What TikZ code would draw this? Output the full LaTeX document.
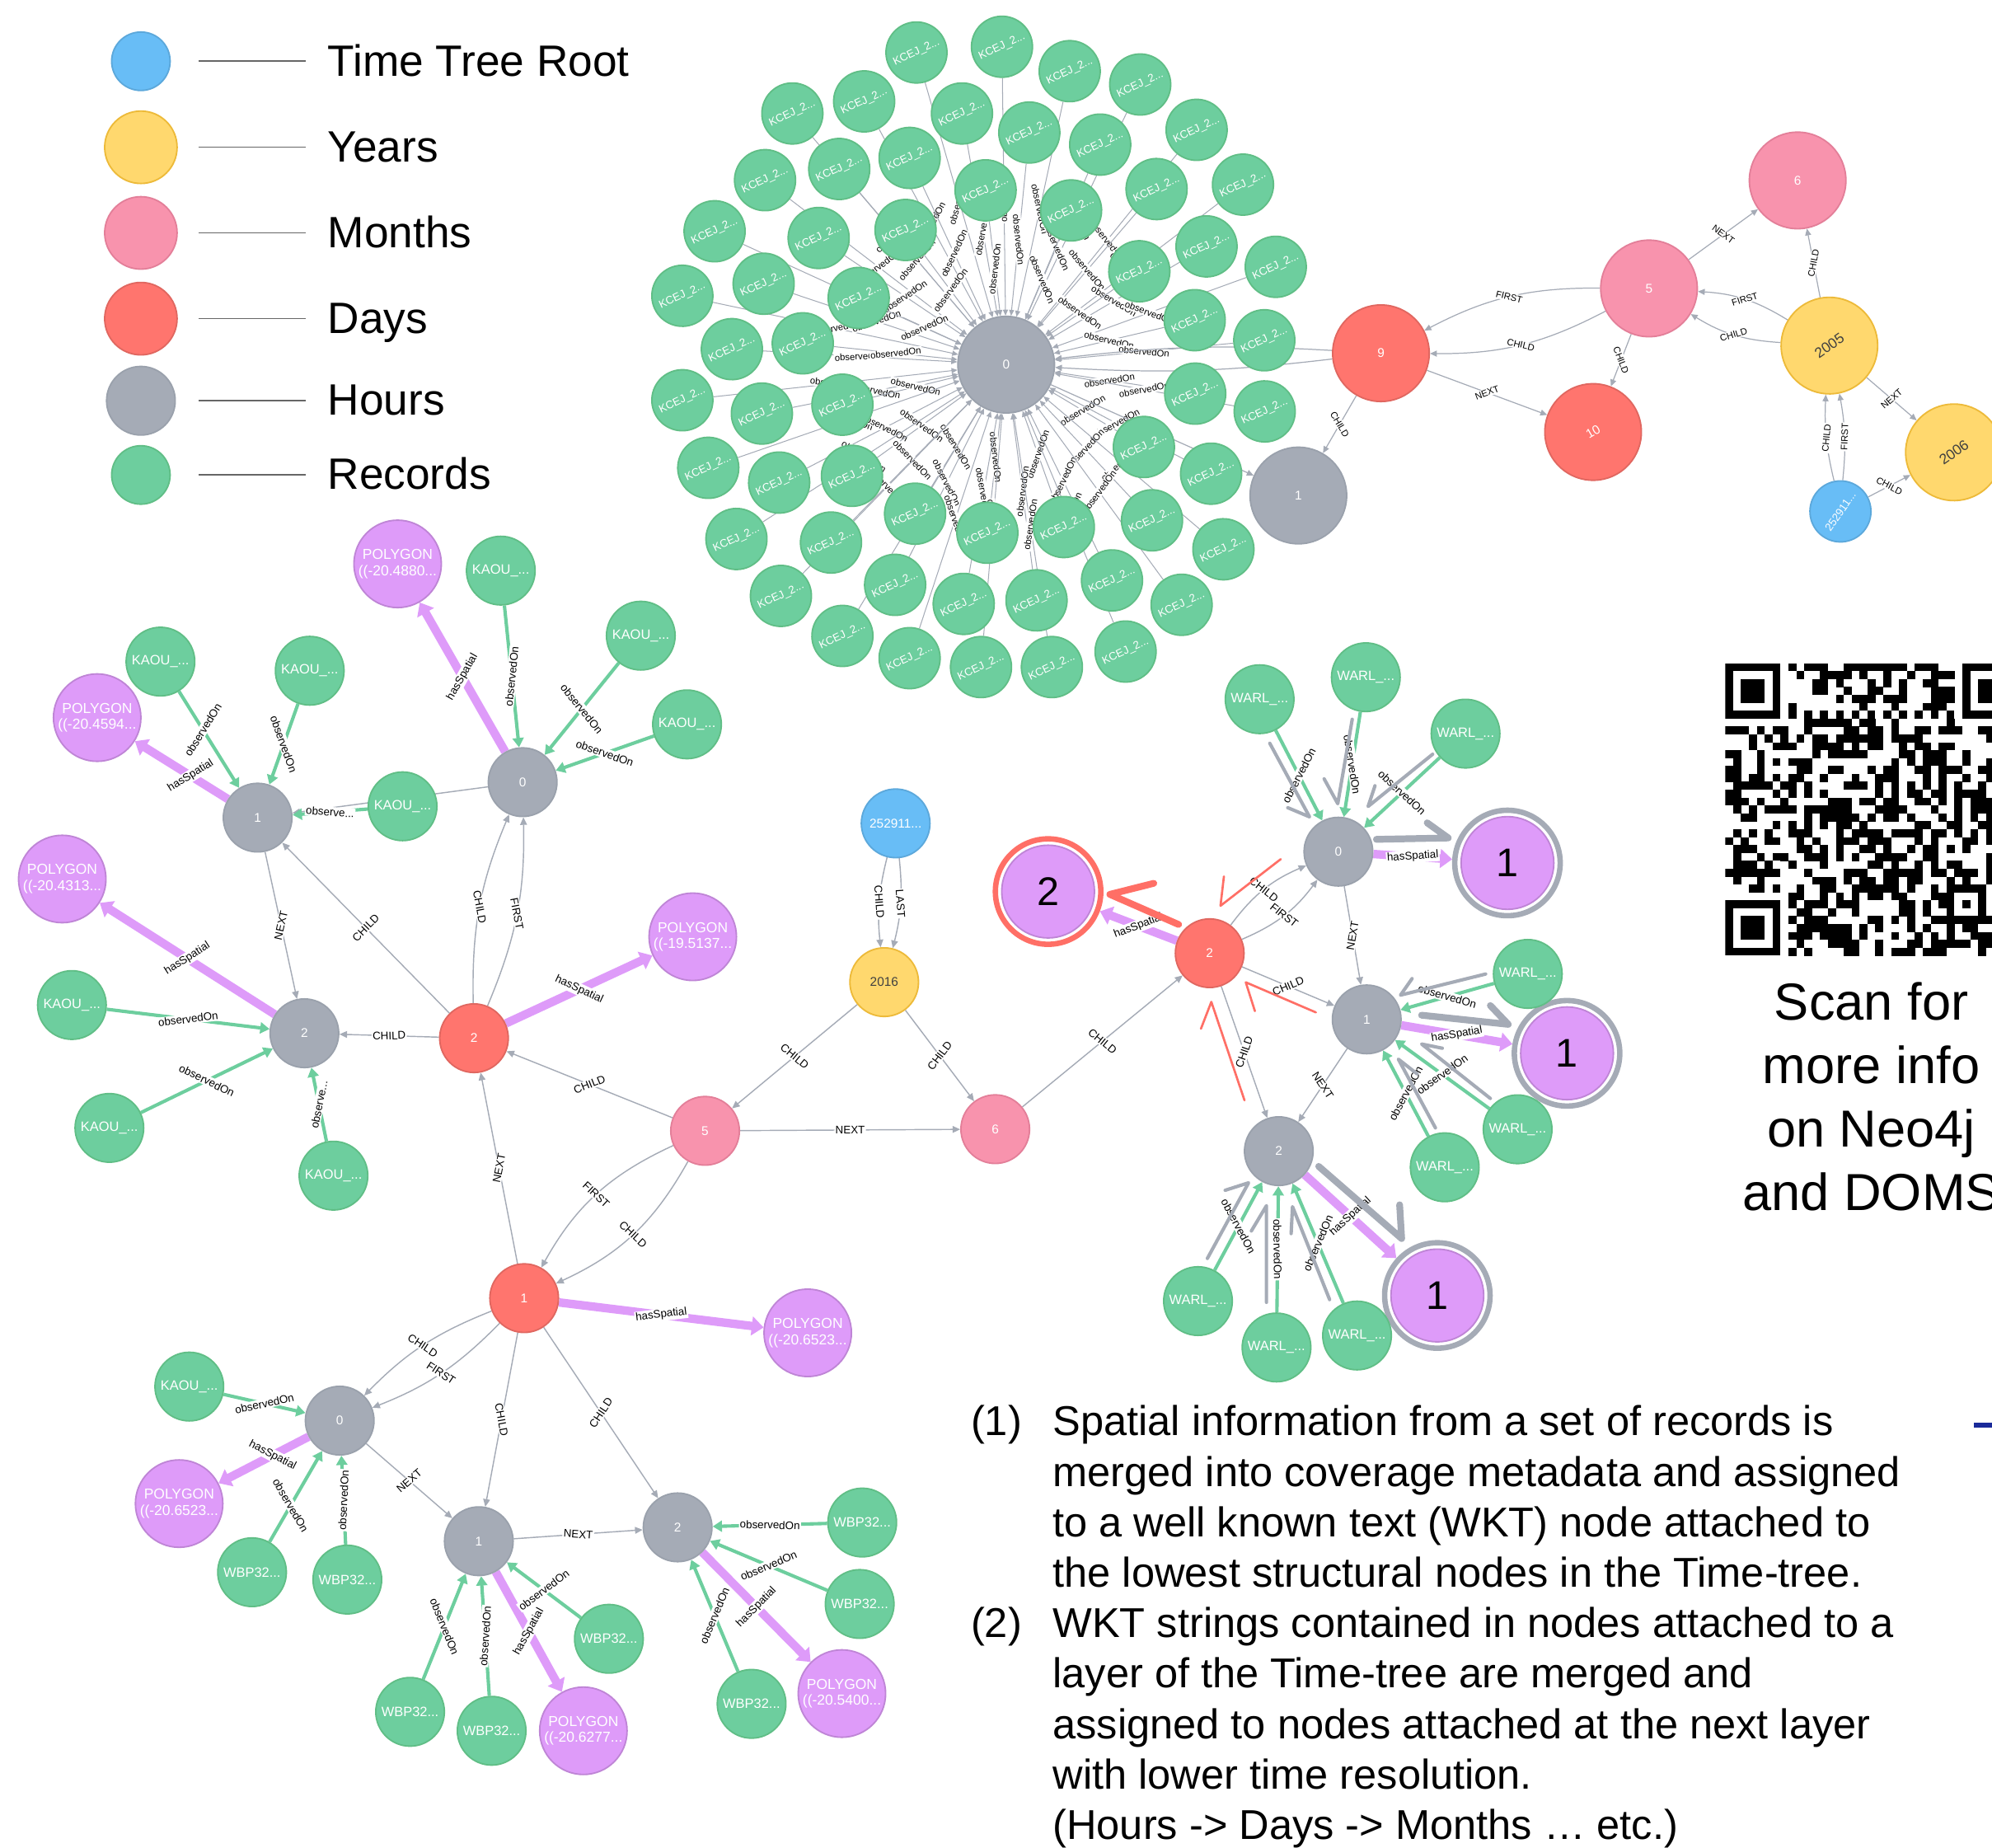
\documentclass[tikz,border=0pt]{standalone}
\usepackage{fontspec}
\setmainfont{Liberation Sans}
\usetikzlibrary{arrows.meta,backgrounds}

\definecolor{rootfill}{HTML}{68BDF6}
\definecolor{rootdraw}{HTML}{5CA8DB}
\definecolor{yearfill}{HTML}{FFD86E}
\definecolor{yeardraw}{HTML}{EDBA39}
\definecolor{monthfill}{HTML}{F893AD}
\definecolor{monthdraw}{HTML}{E37F99}
\definecolor{dayfill}{HTML}{FF756E}
\definecolor{daydraw}{HTML}{E06760}
\definecolor{hourfill}{HTML}{A5ABB6}
\definecolor{hourdraw}{HTML}{9AA1AC}
\definecolor{recfill}{HTML}{6DCE9E}
\definecolor{recdraw}{HTML}{60BE86}
\definecolor{wktfill}{HTML}{DE9BF9}
\definecolor{wktdraw}{HTML}{BF85D6}
\definecolor{relgray}{HTML}{A5ABB6}
\definecolor{markred}{HTML}{FF6F66}
\definecolor{dashblue}{HTML}{1A2A9A}

\tikzset{every picture/.style={line width=0.75pt}}
\tikzset{
  nd/.style={circle,inner sep=0pt,line width=0.9pt,text=white,align=center,font=\fontsize{7.5}{8.5}\selectfont},
  rootnd/.style={nd,fill=rootfill,draw=rootdraw},
  yearnd/.style={nd,fill=yearfill,draw=yeardraw,text=black!75},
  monthnd/.style={nd,fill=monthfill,draw=monthdraw},
  daynd/.style={nd,fill=dayfill,draw=daydraw},
  hournd/.style={nd,fill=hourfill,draw=hourdraw},
  recnd/.style={nd,fill=recfill,draw=recdraw,font=\fontsize{8}{8}\selectfont},
  wktnd/.style={nd,fill=wktfill,draw=wktdraw,font=\fontsize{8.5}{9.5}\selectfont},
  bignum/.style={nd,fill=wktfill,draw=wktdraw,text=black,minimum size=54.75pt,font=\fontsize{23.6}{24}\selectfont},
  ringnd/.style={circle,inner sep=0pt,line width=3.2pt,draw=hourfill,minimum size=62.25pt},
  szL/.style={minimum size=57pt},
  szM/.style={minimum size=40.5pt},
  szS/.style={minimum size=36pt},
  szP/.style={minimum size=51.6pt},
  rel/.style={draw=relgray,line width=0.7pt,-{Triangle[length=4.5pt,width=4pt]}},
  relT/.style={rel,line width=0.6pt,-{Triangle[length=4pt,width=3.5pt]}},
  relS/.style={draw=relgray,line width=0.5pt,-{Triangle[length=3.5pt,width=3pt]}},
  obs/.style={draw=recfill,line width=2pt,-{Triangle[length=5.5pt,width=6.5pt]}},
  spat/.style={draw=wktfill,line width=5pt,-{Triangle[length=7pt,width=11pt]}},
  lbl/.style={sloped,fill=white,inner sep=0.6pt,text=black,font=\fontsize{6.5}{6.5}\selectfont},
  lbls/.style={lbl,font=\fontsize{5.5}{5.5}\selectfont},
  gmark/.style={draw=hourfill,line width=2pt,line cap=round,line join=round},
  gmarkB/.style={gmark,line width=4pt},
  rmark/.style={draw=markred,line width=1.3pt,line cap=round,line join=round},
  rmarkB/.style={rmark,line width=4pt},
  legline/.style={draw=black!60,line width=0.8pt},
  legtext/.style={anchor=base west,inner sep=0pt,font=\fontsize{25.9}{30}\selectfont},
  bodytext/.style={anchor=base west,inner sep=0pt,font=\fontsize{24.6}{29.8}\selectfont},
  qrtext/.style={anchor=base,inner sep=0pt,font=\fontsize{30.75}{37.5}\selectfont},
}

\begin{document}
\begin{tikzpicture}[x=0.75pt,y=0.75pt,yscale=-1,xscale=1]
\useasboundingbox (0,0) rectangle (1568,1454);

%Legend
\node[rootnd,minimum size=34.5pt] (lgroot) at (110.9,48.2) {};
\node[yearnd,minimum size=42.75pt] (lgyear) at (110.9,115.9) {};
\node[monthnd,minimum size=42.75pt] (lgmonth) at (110.9,183.3) {};
\node[daynd,minimum size=42.75pt] (lgday) at (110.9,250.8) {};
\node[hournd,minimum size=40.5pt] (lghour) at (110.9,315.4) {};
\node[recnd,minimum size=34.5pt] (lgrec) at (110.9,373.8) {};
\foreach \y [count=\i] in {48.2,115.9,183.3,250.8,315.4,373.8}{
  \coordinate (lga\i) at (156.2,\y);
  \coordinate (lgb\i) at (241,\y);
  \draw[legline] (lga\i) -- (lgb\i);
}
% Text Node
\node[legtext] (lgtroot) at (257.5,60.2) {Time Tree Root};
\node[legtext] (lgtyear) at (257.5,127.4) {Years};
\node[legtext] (lgtmonth) at (257.5,194.8) {Months};
\node[legtext] (lgtday) at (257.5,262.3) {Days};
\node[legtext] (lgthour) at (257.5,326.9) {Hours};
\node[legtext] (lgtrec) at (257.5,385.3) {Records};

%Star of records round hour 0
\node[hournd,szL] (h0) at (792,287) {0};
\foreach \x/\y [count=\i] in {721.4/41.3, 788.7/36.8, 842.0/56.0, 897.5/66.5, 623.7/89.3,
  680.2/79.8, 757.2/89.3, 941.9/102.2, 810.2/104.3, 866.0/113.8, 602.2/141.8, 660.6/133.0,
  716.0/124.3, 775.8/149.8, 910.4/148.8, 978.4/145.3, 562.5/182.0, 644.4/187.3, 712.8/181.0,
  843.1/165.6, 949.7/193.9, 896.8/213.5, 1004.2/210.0, 537.1/232.8, 601.1/223.3, 675.9/234.5,
  940.4/252.0, 995.2/267.8, 576.1/274.8, 631.9/270.2, 537.1/315.0, 599.7/325.5, 663.1/318.5,
  940.8/309.8, 995.5/323.8, 557.5/368.2, 613.3/379.8, 670.6/374.5, 900.4/351.8, 953.3/372.8,
  579.7/424.2, 654.1/427.0, 720.3/404.3, 777.2/419.3, 837.4/414.8, 906.8/409.5, 963.0/432.3,
  614.7/469.0, 704.6/460.3, 758.6/475.3, 815.9/472.5, 875.3/456.8, 930.1/476.0, 663.1/500.5,
  716.0/518.0, 772.2/525.0, 828.0/525.0, 886.0/512.8}{
  \node[recnd,szS,rotate=25,font=\fontsize{6.5}{6.5}\selectfont] (k\i) at (\x,\y) {KCEJ\_2...};
}

%Top right time tree
\node[hournd,szL] (tgh1) at (1022,390) {1};
\node[daynd,szL] (td9) at (1087,278) {9};
\node[daynd,szL,rotate=30] (td10) at (1254,340) {10};
\node[monthnd,szL] (tm5) at (1298,227) {5};
\node[monthnd,szL] (tm6) at (1415,142) {6};
\node[yearnd,szL,rotate=35,font=\fontsize{8.5}{8.5}\selectfont] (ty2005) at (1440,272) {2005};
\node[yearnd,szL,rotate=35,font=\fontsize{8.5}{8.5}\selectfont] (ty2006) at (1538,356) {2006};
\node[rootnd,szS,rotate=55,font=\fontsize{6.5}{6.5}\selectfont] (troot) at (1448.7,402.5) {252911...};

%Middle time tree
\node[rootnd,szM] (mroot) at (705,648) {252911...};
\node[yearnd,szM] (my2016) at (696,773) {2016};
\node[monthnd,szM] (mm5) at (555,890) {5};
\node[monthnd,szM] (mm6) at (783.4,888.7) {6};
\node[daynd,szM] (ld2) at (373.1,817.1) {2};
\node[daynd,szM] (bd1) at (412.6,1021.7) {1};
\node[daynd,szM] (rd2) at (952.2,750.2) {2};

%Left cluster
\node[hournd,szM] (lh0) at (411.4,615.6) {0};
\node[hournd,szM] (lh1) at (202.8,643.5) {1};
\node[hournd,szM] (lh2) at (239.6,813.2) {2};
\node[wktnd,szP] (lp0) at (313,443.8) {POLYGON\\((-20.4880...};
\node[wktnd,szP] (lp1) at (76.5,564.8) {POLYGON\\((-20.4594...};
\node[wktnd,szP] (lp2) at (49,691.8) {POLYGON\\((-20.4313...};
\node[wktnd,szP] (lpd) at (545.3,737.3) {POLYGON\\((-19.5137...};
\foreach \x/\y [count=\i] in {394.2/449.1, 504.4/500.3, 540.8/570.1, 316.9/634.6, 126.3/520.7,
  243.8/527.9, 56.6/791, 86.1/887.7, 262.5/925.3}{
  \node[recnd,szM] (la\i) at (\x,\y) {KAOU\_...};
}

%Bottom cluster
\node[hournd,szM] (bh0) at (267.4,1118.1) {0};
\node[hournd,szM] (bh1) at (376.9,1213) {1};
\node[hournd,szM] (bh2) at (533.4,1202.1) {2};
\node[wktnd,szP] (bpd) at (635.8,1049) {POLYGON\\((-20.6523...};
\node[wktnd,szP] (bp0) at (141,1183.4) {POLYGON\\((-20.6523...};
\node[wktnd,szP] (bp1) at (459.2,1362.2) {POLYGON\\((-20.6277...};
\node[wktnd,szP] (bp2) at (662.7,1332.9) {POLYGON\\((-20.5400...};
\node[recnd,szM] (bk) at (149,1091.3) {KAOU\_...};
\foreach \x/\y [count=\i] in {198.4/1237.4, 273.4/1243.2, 322.8/1347.3, 387/1362.2, 479.3/1289.8,
  678.7/1198.3, 676.7/1262.4, 591.6/1341}{
  \node[recnd,szM] (bw\i) at (\x,\y) {WBP32...};
}

%Right cluster
\node[hournd,szM] (rh0) at (1053.5,670.3) {0};
\node[hournd,szM] (rh1) at (1075.8,802.3) {1};
\node[hournd,szM] (rh2) at (1006.6,906) {2};
\node[ringnd,draw=markred] (rrd) at (825,701.7) {};
\node[bignum] (rvd) at (rrd.center) {2};
\node[ringnd] (rr0) at (1186.6,679.2) {};
\node[bignum] (rv0) at (rr0.center) {1};
\node[ringnd] (rr1) at (1233.5,829) {};
\node[bignum] (rv1) at (rr1.center) {1};
\node[ringnd] (rr2) at (1131.4,1019.6) {};
\node[bignum] (rv2) at (rr2.center) {1};
\foreach \x/\y [count=\i] in {991.5/550.3, 1075.1/533, 1153.6/577.4, 1202.6/766.5, 1194.6/888.8,
  1137.2/918.7, 943/1024, 1004.8/1060.5, 1068.2/1051.1}{
  \node[recnd,szM] (rw\i) at (\x,\y) {WARL\_...};
}

%Connectors
\begin{pgfonlayer}{background}
\foreach \i in {1,...,58}
  \draw[relS] (k\i) -- node[lbls]{observedOn} (h0);
\draw[relT] (td9) to[bend left=5] (h0);
\draw[relT] (td9) to[bend right=5] (h0);
\draw[relT] (h0) -- (tgh1);
\draw[relT] (tm5) -- node[lbls]{NEXT} (tm6);
\draw[relT] (ty2005) -- node[lbls]{CHILD} (tm6);
\draw[relT] (ty2005) to[bend left=14] node[lbls]{FIRST} (tm5);
\draw[relT] (ty2005) to[bend right=14] node[lbls]{CHILD} (tm5);
\draw[relT] (tm5) to[bend left=14] node[lbls]{FIRST} (td9);
\draw[relT] (tm5) to[bend right=14] node[lbls]{CHILD} (td9);
\draw[relT] (tm5) -- node[lbls]{CHILD} (td10);
\draw[relT] (td9) -- node[lbls]{NEXT} (td10);
\draw[relT] (td9) -- node[lbls]{CHILD} (tgh1);
\draw[relT] (ty2005) -- node[lbls]{NEXT} (ty2006);
\draw[relT] (troot) to[bend right=8] node[lbls]{CHILD} (ty2005);
\draw[relT] (troot) to[bend left=8] node[lbls]{FIRST} (ty2005);
\draw[relT] (troot) -- node[lbls]{CHILD} (ty2006);

\draw[rel] (mroot) to[bend left=10] node[lbl]{CHILD} (my2016);
\draw[rel] (mroot) to[bend right=10] node[lbl]{LAST} (my2016);
\draw[rel] (my2016) -- node[lbl]{CHILD} (mm5);
\draw[rel] (my2016) -- node[lbl]{CHILD} (mm6);
\draw[rel] (mm5) -- node[lbl]{NEXT} (mm6);
\draw[rel] (mm5) -- node[lbl]{CHILD} (ld2);
\draw[rel] (mm5) to[bend left=18] node[lbl]{FIRST} (bd1);
\draw[rel] (mm5) to[bend right=18] node[lbl]{CHILD} (bd1);
\draw[rel] (bd1) -- node[lbl]{NEXT} (ld2);
\draw[rel] (mm6) -- node[lbl]{CHILD} (rd2);

\draw[rel] (ld2) to[bend right=12] node[lbl]{CHILD} (lh0);
\draw[rel] (ld2) to[bend left=12] node[lbl]{FIRST} (lh0);
\draw[rel] (ld2) -- node[lbl]{CHILD} (lh1);
\draw[rel] (ld2) -- node[lbl]{CHILD} (lh2);
\draw[rel] (lh1) -- node[lbl]{NEXT} (lh2);
\draw[rel] (lh0) -- (lh1);
\draw[spat] (ld2) -- node[lbl]{hasSpatial} (lpd);
\draw[spat] (lh0) -- node[lbl]{hasSpatial} (lp0);
\draw[spat] (lh1) -- node[lbl,pos=0.4]{hasSpatial} (lp1);
\draw[spat] (lh2) -- node[lbl]{hasSpatial} (lp2);
\foreach \a/\h in {la1/lh0, la2/lh0, la3/lh0, la6/lh1, la7/lh2, la8/lh2}
  \draw[obs] (\a) -- node[lbl]{observedOn} (\h);
\draw[obs] (la5) -- node[lbl,pos=0.4]{observedOn} (lh1);
\draw[obs] (la4) -- node[lbl]{observe...} (lh1);
\draw[obs] (la9) -- node[lbl]{observe...} (lh2);

\draw[rel] (bd1) to[bend left=12] node[lbl]{CHILD} (bh0);
\draw[rel] (bd1) to[bend right=12] node[lbl]{FIRST} (bh0);
\draw[rel] (bd1) -- node[lbl]{CHILD} (bh1);
\draw[rel] (bd1) -- node[lbl]{CHILD} (bh2);
\draw[rel] (bh0) -- node[lbl]{NEXT} (bh1);
\draw[rel] (bh1) -- node[lbl]{NEXT} (bh2);
\draw[spat] (bd1) -- node[lbl]{hasSpatial} (bpd);
\draw[spat] (bh0) -- node[lbl,pos=0.4]{hasSpatial} (bp0);
\draw[spat] (bh1) -- node[lbl]{hasSpatial} (bp1);
\draw[spat] (bh2) -- node[lbl]{hasSpatial} (bp2);
\foreach \a/\h in {bk/bh0, bw2/bh0, bw3/bh1, bw4/bh1, bw5/bh1, bw6/bh2, bw7/bh2, bw8/bh2}
  \draw[obs] (\a) -- node[lbl]{observedOn} (\h);
\draw[obs] (bw1) -- node[lbl,pos=0.4]{observedOn} (bh0);

\draw[rel] (rd2) to[bend right=15] node[lbl]{CHILD} (rh0);
\draw[rel] (rd2) to[bend left=15] node[lbl]{FIRST} (rh0);
\draw[rel] (rd2) -- node[lbl]{CHILD} (rh1);
\draw[rel] (rd2) -- node[lbl]{CHILD} (rh2);
\draw[rel] (rh0) -- node[lbl]{NEXT} (rh1);
\draw[rel] (rh1) -- node[lbl]{NEXT} (rh2);
\draw[spat] (rd2) -- node[lbl]{hasSpatial} (rrd);
\draw[spat] (rh0) -- node[lbl]{hasSpatial} (rr0);
\draw[spat] (rh1) -- node[lbl]{hasSpatial} (rr1);
\draw[spat] (rh2) -- node[lbl]{hasSpatial} (rr2);
\foreach \a/\h in {rw1/rh0, rw2/rh0, rw3/rh0, rw4/rh1, rw5/rh1, rw6/rh1, rw7/rh2, rw8/rh2, rw9/rh2}
  \draw[obs] (\a) -- node[lbl]{observedOn} (\h);
\end{pgfonlayer}

%Hand drawn marks
\foreach \sx/\sy/\tx/\ty/\ax/\ay [count=\i] in {999.5/585/1030.8/642.9/1013.7/635.7,
  1064.4/566.1/1053/632.5/1042.3/613, 1127.7/593.6/1076.9/634.7/1082.3/618.4,
  1169.4/766.6/1102.4/783.2/1111.5/770.2, 1173.1/864.5/1119/821.7/1135.3/825,
  1129.9/887.7/1100.7/833.6/1115.4/845.1, 950.4/990.4/982.8/930.9/964.4/936.8,
  996.9/1025/996.9/948.9/985/968.8, 1046.6/1022.8/1017.4/949.7/1016.3/970.9}{
  \coordinate (gs\i) at (\sx,\sy);
  \coordinate (gt\i) at (\tx,\ty);
  \coordinate (ga\i) at (\ax,\ay);
  \draw[gmark] (gs\i) -- (gt\i) -- (ga\i);
}
\foreach \sx/\sy/\tx/\ty/\ax/\ay [count=\i] in {1083.4/660.6/1140/659.5/1123.4/647.6,
  1119/799/1187.2/806.2/1173.1/791.4, 1038/918/1103.3/974.8/1101.7/948.2}{
  \coordinate (gbs\i) at (\sx,\sy);
  \coordinate (gbt\i) at (\tx,\ty);
  \coordinate (gba\i) at (\ax,\ay);
  \draw[gmarkB] (gbs\i) -- (gbt\i) -- (gba\i);
}
\foreach \sx/\sy/\tx/\ty/\ax/\ay [count=\i] in {1008.1/676.2/960.7/712.9/963.4/689.8,
  1035.8/796.8/980.6/773.1/987.8/795.8, 979.6/866/953.5/788.5/945.3/809.7}{
  \coordinate (rs\i) at (\sx,\sy);
  \coordinate (rt\i) at (\tx,\ty);
  \coordinate (ra\i) at (\ax,\ay);
  \draw[rmark] (rs\i) -- (rt\i) -- (ra\i);
}
\coordinate (rbs) at (927.7,727.6);
\coordinate (rbt) at (873.6,703.9);
\coordinate (rba) at (908.2,695.2);
\draw[rmarkB] (rbs) -- (rbt) -- (rba);

%QR code
\begin{scope}[shift={(1358,522)}]
\clip (0,0) rectangle (210,231);
\pgfmathsetseed{4242}
\foreach \r in {0,...,36}{
  \foreach \c in {0,...,36}{
    \pgfmathtruncatemacro\qskip{(\r<8 && \c<8) || (\r<8 && \c>28) || (\r>28 && \c<8) || (\r>27 && \r<33 && \c>27 && \c<33) || \r==6 || \c==6}
    \ifnum\qskip=0
      \pgfmathtruncatemacro\qbit{rnd<0.48}
      \ifnum\qbit=1 \fill ({\c*6.22},{\r*6.22}) rectangle ++(6.32,6.32); \fi
    \fi
  }
}
\foreach \t in {8,10,...,28}{
  \fill ({\t*6.22},{6*6.22}) rectangle ++(6.22,6.22);
  \fill ({6*6.22},{\t*6.22}) rectangle ++(6.22,6.22);
}
\foreach \fx/\fy in {0/0, 30/0, 0/30}{
  \fill ({\fx*6.22},{\fy*6.22}) rectangle ++({7*6.22},{7*6.22});
  \fill[white] ({(\fx+1)*6.22},{(\fy+1)*6.22}) rectangle ++({5*6.22},{5*6.22});
  \fill ({(\fx+2)*6.22},{(\fy+2)*6.22}) rectangle ++({3*6.22},{3*6.22});
}
\fill ({28*6.22},{28*6.22}) rectangle ++({5*6.22},{5*6.22});
\fill[white] ({29*6.22},{29*6.22}) rectangle ++({3*6.22},{3*6.22});
\fill ({30*6.22},{30*6.22}) rectangle ++(6.22,6.22);
\end{scope}

% Text Node
\node[qrtext] (qr1) at (1473,802.7) {Scan for};
\node[qrtext] (qr2) at (1473,852.7) {more info};
\node[qrtext] (qr3) at (1473,902.7) {on Neo4j};
\node[qrtext] (qr4) at (1473,952.7) {and DOMS};

% Text Node
\node[bodytext] (nt1) at (764,1130) {(1)};
\node[bodytext] (nt2) at (764,1288.8) {(2)};
\foreach \txt [count=\i] in {Spatial information from a set of records is,
  merged into coverage metadata and assigned,
  to a well known text (WKT) node attached to,
  the lowest structural nodes in the Time-tree.,
  WKT strings contained in nodes attached to a,
  layer of the Time-tree are merged and,
  assigned to nodes attached at the next layer,
  with lower time resolution.,
  (Hours -> Days -> Months … etc.)}{
  \pgfmathsetmacro\ly{1130+(\i-1)*39.7}
  \node[bodytext] (line\i) at (828.5,\ly) {\txt};
}
\fill[dashblue] (1554,1119.5) rectangle (1568,1123.6);

\end{tikzpicture}
\end{document}
